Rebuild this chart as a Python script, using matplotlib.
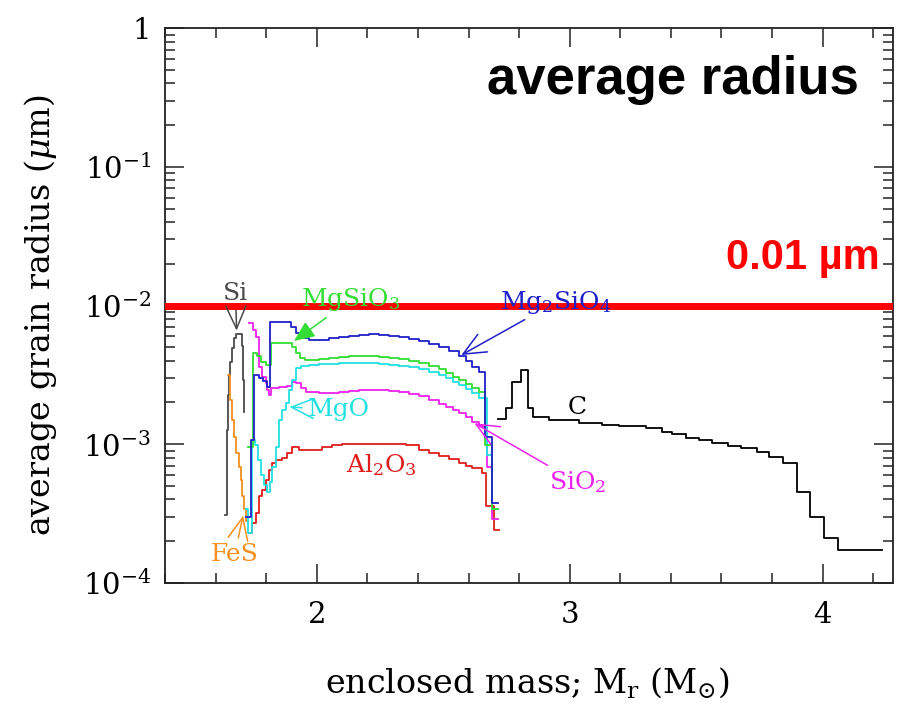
import numpy as np
import matplotlib.pyplot as plt
from matplotlib.ticker import FixedLocator, LogLocator, MultipleLocator, NullFormatter, FixedFormatter

plt.rcParams['font.family'] = 'DejaVu Serif'
plt.rcParams['mathtext.fontset'] = 'dejavuserif'

# enclosed mass (M_sun) where each step starts, and average grain radius (micron)
si_m = [1.636, 1.644, 1.648, 1.651, 1.655, 1.663, 1.671, 1.679, 1.695, 1.703, 1.707, 1.711]
si_a = [0.00031, 0.00127, 0.00226, 0.00316, 0.00392, 0.00494, 0.00583, 0.00623, 0.00623, 0.00511, 0.00290, 0.00171]

fes_m = [1.648, 1.655, 1.663, 1.671, 1.679, 1.691, 1.699, 1.703, 1.711, 1.719, 1.727]
fes_a = [0.00316, 0.00208, 0.00150, 0.00113, 0.00086, 0.00069, 0.00055, 0.00042, 0.00034, 0.00028, 0.00028]

al2o3_m = [1.731, 1.743, 1.758, 1.770, 1.782, 1.798, 1.810, 1.822, 1.838, 1.861, 1.881, 1.901,
           1.929, 1.980, 2.020, 2.059, 2.099, 2.138, 2.178, 2.218, 2.257, 2.297, 2.352, 2.404,
           2.444, 2.483, 2.523, 2.562, 2.590, 2.614, 2.653, 2.669, 2.701, 2.721]
al2o3_a = [0.00023, 0.00027, 0.00032, 0.00042, 0.00047, 0.00055, 0.00065, 0.00073, 0.00077, 0.00080,
           0.00086, 0.00096, 0.00091, 0.00091, 0.00095, 0.00099, 0.00100, 0.00101, 0.00100, 0.00101,
           0.00100, 0.00100, 0.00099, 0.00091, 0.00086, 0.00082, 0.00078, 0.00073, 0.00070, 0.00067,
           0.00062, 0.00036, 0.00024, 0.00024]

sio2_m = [1.731, 1.747, 1.758, 1.770, 1.782, 1.798, 1.802, 1.810, 1.818, 1.850, 1.881, 1.901, 1.917,
          1.937, 1.956, 2.008, 2.048, 2.087, 2.127, 2.166, 2.206, 2.246, 2.285, 2.325, 2.364, 2.404,
          2.444, 2.483, 2.511, 2.537, 2.562, 2.590, 2.614, 2.642, 2.653, 2.673, 2.693, 2.717]
sio2_a = [0.00748, 0.00666, 0.00593, 0.00361, 0.00305, 0.00276, 0.00246, 0.00226, 0.00254, 0.00259,
          0.00263, 0.00281, 0.00276, 0.00254, 0.00238, 0.00234, 0.00236, 0.00238, 0.00242, 0.00246,
          0.00246, 0.00246, 0.00242, 0.00238, 0.00230, 0.00222, 0.00208, 0.00196, 0.00186, 0.00177,
          0.00168, 0.00157, 0.00145, 0.00138, 0.00133, 0.00069, 0.00029, 0.00029]

mgo_m = [1.719, 1.727, 1.743, 1.754, 1.766, 1.778, 1.790, 1.802, 1.814, 1.822, 1.838, 1.850, 1.861,
         1.877, 1.889, 1.901, 1.917, 1.937, 1.968, 2.008, 2.048, 2.087, 2.127, 2.166, 2.206, 2.246,
         2.285, 2.325, 2.364, 2.404, 2.444, 2.483, 2.511, 2.537, 2.562, 2.590, 2.614, 2.642, 2.673,
         2.693, 2.717]
mgo_a = [0.00034, 0.00023, 0.00107, 0.00099, 0.00077, 0.00060, 0.00051, 0.00045, 0.00053, 0.00069,
         0.00096, 0.00150, 0.00177, 0.00198, 0.00246, 0.00290, 0.00355, 0.00367, 0.00373, 0.00376,
         0.00379, 0.00382, 0.00385, 0.00385, 0.00382, 0.00379, 0.00373, 0.00367, 0.00358, 0.00346,
         0.00332, 0.00314, 0.00300, 0.00283, 0.00267, 0.00250, 0.00234, 0.00215, 0.00084, 0.00034,
         0.00034]

mgsio3_m = [1.727, 1.747, 1.762, 1.778, 1.798, 1.818, 1.901, 1.917, 1.933, 1.953, 2.008, 2.048, 2.087,
            2.127, 2.166, 2.206, 2.246, 2.285, 2.325, 2.364, 2.404, 2.444, 2.483, 2.511, 2.537, 2.562,
            2.590, 2.614, 2.642, 2.665, 2.693, 2.717]
mgsio3_a = [0.00096, 0.00455, 0.00433, 0.00392, 0.00373, 0.00537, 0.00503, 0.00455, 0.00419, 0.00405,
            0.00411, 0.00419, 0.00426, 0.00430, 0.00433, 0.00430, 0.00426, 0.00419, 0.00411, 0.00398,
            0.00385, 0.00367, 0.00346, 0.00326, 0.00305, 0.00290, 0.00272, 0.00254, 0.00238, 0.00099,
            0.00034, 0.00034]

mg2sio4_m = [1.719, 1.739, 1.750, 1.770, 1.786, 1.802, 1.814, 1.897, 1.917, 1.929, 1.949, 1.968, 2.008,
             2.048, 2.087, 2.127, 2.166, 2.206, 2.246, 2.285, 2.325, 2.364, 2.404, 2.444, 2.483, 2.523,
             2.562, 2.590, 2.614, 2.642, 2.665, 2.693, 2.717]
mg2sio4_a = [0.00030, 0.00107, 0.00316, 0.00300, 0.00286, 0.00259, 0.00760, 0.00700, 0.00634, 0.00600,
             0.00583, 0.00564, 0.00564, 0.00583, 0.00593, 0.00603, 0.00613, 0.00623, 0.00613, 0.00603,
             0.00593, 0.00574, 0.00555, 0.00528, 0.00503, 0.00470, 0.00433, 0.00398, 0.00361, 0.00332,
             0.00113, 0.00038, 0.00038]

c_m = [2.717, 2.749, 2.772, 2.808, 2.836, 2.855, 2.919, 3.038, 3.129, 3.196, 3.303, 3.366, 3.406,
       3.461, 3.513, 3.564, 3.624, 3.679, 3.739, 3.790, 3.842, 3.897, 3.952, 4.004, 4.059, 4.234]
c_a = [0.00152, 0.00183, 0.00281, 0.00343, 0.00183, 0.00157, 0.00150, 0.00142, 0.00138, 0.00135,
       0.00131, 0.00123, 0.00119, 0.00111, 0.00107, 0.00102, 0.00097, 0.00094, 0.00088, 0.00081,
       0.00073, 0.00045, 0.00030, 0.00021, 0.000173, 0.000173]

size_limit = 0.01   # micron

fig = plt.figure(figsize=(8.97, 7.04), dpi=100)
ax = fig.add_axes([0.184, 0.172, 0.812, 0.788])

lw = 1.3
ax.plot(c_m, c_a, drawstyle='steps-post', color='black', lw=lw)
ax.plot(si_m, si_a, drawstyle='steps-post', color='#4a4a4a', lw=lw)
ax.plot(fes_m, fes_a, drawstyle='steps-post', color='#f39020', lw=lw)
ax.plot(al2o3_m, al2o3_a, drawstyle='steps-post', color='#e01c1c', lw=lw)
ax.plot(sio2_m, sio2_a, drawstyle='steps-post', color='#ee22ee', lw=lw)
ax.plot(mgo_m, mgo_a, drawstyle='steps-post', color='#22e0e0', lw=lw)
ax.plot(mgsio3_m, mgsio3_a, drawstyle='steps-post', color='#33dd33', lw=lw)
ax.plot(mg2sio4_m, mg2sio4_a, drawstyle='steps-post', color='#2020c8', lw=lw)

ax.set_yscale('log')
ax.set_xlim(1.4, 4.28)
ax.set_ylim(1e-4, 1)

ax.xaxis.set_major_locator(FixedLocator([2, 3, 4]))
ax.xaxis.set_minor_locator(MultipleLocator(0.2))
ax.yaxis.set_major_locator(FixedLocator([1e-4, 1e-3, 1e-2, 1e-1, 1]))
ax.yaxis.set_major_formatter(FixedFormatter([r'$10^{-4}$', r'$10^{-3}$', r'$10^{-2}$', r'$10^{-1}$', '1']))
ax.yaxis.set_minor_locator(LogLocator(base=10, subs=np.arange(2, 10)))
ax.yaxis.set_minor_formatter(NullFormatter())
ax.tick_params(which='both', direction='in', top=True, right=True, width=1.1, colors='#222222')
ax.tick_params(which='major', length=14, labelsize=21, labelcolor='black')
ax.tick_params(axis='x', which='major', pad=13)
ax.tick_params(axis='y', which='major', pad=10)
ax.tick_params(which='minor', length=7)
for s in ax.spines.values():
    s.set_linewidth(1.3)
    s.set_color('#222222')

fig.text(0.045, 0.553, r'average grain radius ($\mu$m)', rotation=90, ha='center', va='center', fontsize=24)
fig.text(0.588, 0.030, r'enclosed mass; M$_{\rm r}$ (M$_{\odot}$)', ha='center', va='center', fontsize=24)

# species labels with arrows
lab = dict(fontsize=18, ha='center', va='center', zorder=8)
ax.annotate('Si', xy=(1.683, 0.0063), xytext=(1.679, 0.0123), color='#4a4a4a',
            arrowprops=dict(arrowstyle='->,head_length=0.9,head_width=0.4', color='#4a4a4a', lw=1.1), **lab)
ax.annotate('FeS', xy=(1.711, 0.00032), xytext=(1.675, 0.000159), color='#f39020',
            arrowprops=dict(arrowstyle='->,head_length=0.9,head_width=0.4', color='#f39020', lw=1.1), **lab)
ax.annotate(r'MgSiO$_3$', xy=(1.901, 0.0054), xytext=(2.135, 0.011), color='#33dd33',
            arrowprops=dict(arrowstyle='-|>,head_length=0.7,head_width=0.3', color='#33dd33', lw=1.1), **lab)
ax.annotate(r'Mg$_2$SiO$_4$', xy=(2.562, 0.0043), xytext=(2.947, 0.0106), color='#2020c8',
            arrowprops=dict(arrowstyle='->,head_length=0.9,head_width=0.4', color='#2020c8', lw=1.1), **lab)
ax.annotate('MgO', xy=(1.881, 0.00186), xytext=(2.087, 0.00177), color='#22e0e0',
            arrowprops=dict(arrowstyle='->,head_length=0.9,head_width=0.4', color='#22e0e0', lw=1.1), **lab)
ax.annotate(r'SiO$_2$', xy=(2.614, 0.00145), xytext=(3.03, 0.00053), color='#ee22ee',
            arrowprops=dict(arrowstyle='->,head_length=0.9,head_width=0.4', color='#ee22ee', lw=1.1), **lab)
ax.text(2.257, 0.00071, r'Al$_2$O$_3$', color='#e01c1c', **lab)
ax.text(3.03, 0.00183, 'C', color='black', **lab)

# 0.01 micron reference line
ax.axhline(size_limit, color='#ff0000', lw=5, zorder=6)
fig.text(0.981, 0.633, '0.01 \u00b5m', ha='right', va='center', fontsize=30, fontweight='bold',
         color='#ff0000', family='Liberation Sans')
fig.text(0.957, 0.886, 'average radius', ha='right', va='center', fontsize=38, fontweight='bold',
         color='black', family='Liberation Sans')

fig.savefig('out.png', dpi=100)
